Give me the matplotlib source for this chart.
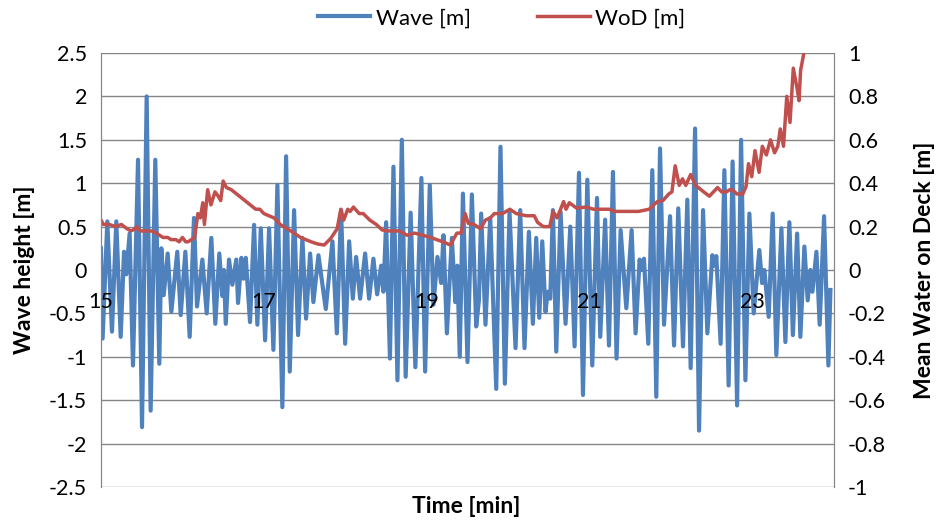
import matplotlib
matplotlib.use("Agg")
import matplotlib.pyplot as plt

plt.rcParams['font.family'] = ['Lato', 'DejaVu Sans']

# Wave elevation [m], peaks and troughs
wave_t = [15.00, 15.02, 15.078, 15.135, 15.188, 15.242, 15.283, 15.31, 15.352, 15.393,
          15.455, 15.504, 15.561, 15.610, 15.667, 15.716, 15.741, 15.770, 15.819, 15.864,
          15.937, 15.979, 16.036, 16.089, 16.142, 16.179, 16.245, 16.298, 16.355, 16.404,
          16.453, 16.49, 16.51, 16.532, 16.572, 16.613, 16.662, 16.683, 16.724, 16.75,
          16.778, 16.830, 16.880, 16.920, 16.962, 17.015, 17.064, 17.117, 17.166, 17.227,
          17.273, 17.318, 17.371, 17.420, 17.473, 17.518, 17.568, 17.608, 17.670, 17.760,
          17.842, 17.896, 17.948, 17.998, 18.047, 18.092, 18.133, 18.182, 18.243, 18.292,
          18.345, 18.391, 18.440, 18.468, 18.501, 18.548, 18.591, 18.640, 18.694, 18.741,
          18.802, 18.860, 18.934, 18.980, 19.037, 19.082, 19.131, 19.177, 19.205, 19.247,
          19.308, 19.350, 19.375, 19.405, 19.444, 19.500, 19.554, 19.607, 19.64, 19.668,
          19.721, 19.779, 19.853, 19.905, 19.959, 20.016, 20.090, 20.147, 20.200, 20.254,
          20.303, 20.344, 20.381, 20.418, 20.458, 20.485, 20.516, 20.549, 20.590, 20.643,
          20.704, 20.762, 20.815, 20.869, 20.918, 20.971, 21.032, 21.090, 21.130, 21.19,
          21.237, 21.286, 21.330, 21.380, 21.450, 21.515, 21.564, 21.613, 21.64, 21.667,
          21.720, 21.769, 21.818, 21.864, 21.913, 21.987, 22.036, 22.088, 22.146, 22.199,
          22.240, 22.294, 22.343, 22.392, 22.445, 22.506, 22.53, 22.555, 22.608, 22.654,
          22.706, 22.755, 22.810, 22.859, 22.912, 22.961, 23.014, 23.083, 23.117, 23.145,
          23.198, 23.247, 23.292, 23.354, 23.403, 23.452, 23.495, 23.547, 23.587, 23.636,
          23.677, 23.71, 23.735, 23.784, 23.824, 23.878, 23.931, 23.956]
wave_h = [0.25, -0.79, 0.56, -0.71, 0.56, -0.77, 0.21, -0.05, 0.42, -1.10,
          1.27, -1.81, 2.00, -1.62, 1.27, -1.08, 0.25, -0.29, 0.19, -0.48,
          0.21, -0.52, 0.21, -0.77, 0.60, -0.42, 0.12, -0.50, 0.37, -0.62,
          0.19, -0.30, 0.0, -0.62, 0.12, -0.17, 0.12, -0.38, 0.14, -0.10,
          0.14, -0.60, 0.52, -0.63, 0.48, -0.81, 0.48, -0.92, 0.98, -1.58,
          1.31, -1.17, 0.69, -0.75, 0.37, -0.56, 0.19, -0.37, 0.17, -0.45,
          0.33, -0.73, 0.69, -0.85, 0.33, -0.33, 0.15, -0.33, 0.19, -0.33,
          0.13, -0.28, 0.05, -0.25, 0.55, -1.02, 1.19, -1.27, 1.50, -1.23,
          0.66, -1.12, 1.06, -1.17, 0.98, -0.40, 0.15, -0.15, 0.40, -0.73,
          0.37, -0.37, 0.05, -1.00, 0.88, -1.06, 0.87, -0.65, -0.35, 0.65,
          -0.63, 0.60, -1.37, 1.42, -1.31, 0.67, -0.90, 0.69, -0.90, 0.44,
          -0.62, 0.37, -0.55, 0.33, -0.48, -0.25, -0.33, 0.69, -0.94, 0.67,
          -0.62, 0.50, -0.88, 1.12, -1.44, 1.04, -1.10, 0.83, -0.77, 0.58,
          -0.87, 1.13, -1.02, 0.46, -0.44, 0.46, -0.73, 0.12, 0.0, 0.13,
          -0.85, 1.15, -1.46, 1.40, -0.63, 0.62, -0.87, 0.71, -0.88, 0.81,
          -1.13, 1.63, -1.85, 0.69, -0.73, 0.17, 0.05, 0.16, -0.85, 1.15,
          -1.33, 1.25, -1.56, 1.50, -1.27, 0.65, -0.50, 0.23, -0.15, 0.0,
          -0.54, 0.65, -0.98, 0.48, -0.83, 0.55, -0.75, 0.42, -0.77, 0.27,
          -0.35, 0.0, -0.25, 0.21, -0.63, 0.62, -1.10, -0.23]

# Mean water on deck [m]
wod_t = [15.00, 15.03, 15.10, 15.18, 15.25, 15.32, 15.37, 15.42, 15.44, 15.48,
         15.55, 15.62, 15.68, 15.76, 15.82, 15.86, 15.92, 15.96, 16.00, 16.04,
         16.07, 16.15, 16.19, 16.22, 16.25, 16.27, 16.31, 16.35, 16.40, 16.44,
         16.47, 16.50, 16.54, 16.60, 16.70, 16.80, 16.90, 16.95, 17.00, 17.125,
         17.20, 17.33, 17.45, 17.58, 17.66, 17.74, 17.82, 17.90, 17.945, 17.98,
         18.03, 18.06, 18.10, 18.17, 18.22, 18.30, 18.38, 18.45, 18.51, 18.60,
         18.66, 18.76, 18.85, 18.95, 19.05, 19.12, 19.20, 19.29, 19.37, 19.42,
         19.47, 19.51, 19.58, 19.66, 19.72, 19.78, 19.83, 19.93, 20.02, 20.10,
         20.22, 20.32, 20.36, 20.43, 20.51, 20.55, 20.60, 20.68, 20.71, 20.75,
         20.84, 20.95, 21.05, 21.16, 21.24, 21.30, 21.40, 21.50, 21.60, 21.73,
         21.83, 21.90, 21.97, 22.01, 22.05, 22.10, 22.14, 22.18, 22.24, 22.30,
         22.40, 22.47, 22.52, 22.57, 22.62, 22.68, 22.72, 22.75, 22.81, 22.88,
         22.92, 22.95, 22.99, 23.03, 23.08, 23.12, 23.17, 23.22, 23.27, 23.31,
         23.34, 23.38, 23.42, 23.46, 23.50, 23.55, 23.57, 23.59, 23.63, 23.65]
wod_m = [0.23, 0.21, 0.21, 0.20, 0.21, 0.19, 0.18, 0.19, 0.20, 0.18,
         0.18, 0.18, 0.17, 0.15, 0.15, 0.14, 0.14, 0.13, 0.15, 0.13,
         0.13, 0.15, 0.26, 0.24, 0.31, 0.21, 0.37, 0.30, 0.36, 0.34,
         0.32, 0.41, 0.38, 0.37, 0.34, 0.31, 0.28, 0.28, 0.26, 0.24,
         0.21, 0.18, 0.15, 0.13, 0.12, 0.115, 0.145, 0.19, 0.28, 0.23,
         0.28, 0.27, 0.29, 0.26, 0.26, 0.23, 0.21, 0.185, 0.18, 0.18,
         0.18, 0.16, 0.17, 0.16, 0.15, 0.14, 0.13, 0.115, 0.17, 0.17,
         0.26, 0.215, 0.21, 0.19, 0.23, 0.24, 0.26, 0.26, 0.28, 0.26,
         0.25, 0.25, 0.22, 0.20, 0.20, 0.27, 0.24, 0.315, 0.28, 0.31,
         0.285, 0.29, 0.28, 0.28, 0.28, 0.27, 0.27, 0.27, 0.27, 0.28,
         0.315, 0.32, 0.35, 0.36, 0.48, 0.39, 0.42, 0.39, 0.44, 0.39,
         0.36, 0.34, 0.36, 0.38, 0.36, 0.36, 0.37, 0.37, 0.35, 0.35,
         0.385, 0.49, 0.43, 0.55, 0.45, 0.57, 0.53, 0.60, 0.54, 0.57,
         0.65, 0.57, 0.80, 0.68, 0.93, 0.83, 0.78, 0.92, 1.00, 1.05]

x_ticks = [15, 17, 19, 21, 23]
left_ticks = [-2.5, -2, -1.5, -1, -0.5, 0, 0.5, 1, 1.5, 2, 2.5]
right_ticks = [-1, -0.8, -0.6, -0.4, -0.2, 0, 0.2, 0.4, 0.6, 0.8, 1]

blue = '#4F81BD'
red = '#C0504D'
grid_c = '#868686'
fs_tick = 15.5
fs_title = 16.5

fig = plt.figure(figsize=(9.41, 5.22), dpi=100)
ax = fig.add_axes([0.1073, 0.067, 0.779, 0.8315])
ax2 = ax.twinx()

ax.plot(wave_t, wave_h, color=blue, lw=3.0, solid_joinstyle='round', label='Wave [m]')
ax2.plot(wod_t, wod_m, color=red, lw=2.5, solid_joinstyle='round', label='WoD [m]')

ax.set_xlim(15, 24)
ax.set_ylim(-2.5, 2.5)
ax2.set_ylim(-1, 1)

ax.set_yticks(left_ticks)
ax.set_yticklabels([f'{v:g}' for v in left_ticks])
ax2.set_yticks(right_ticks)
ax2.set_yticklabels([f'{v:g}' for v in right_ticks])
ax.set_xticks(x_ticks)
ax.set_xticklabels([str(v) for v in x_ticks])

ax.grid(axis='y', color=grid_c, lw=1.0)
ax.set_axisbelow(True)
ax.xaxis.set_zorder(3)  # time labels sit on top of the wave trace

# category axis crosses at 0
ax.spines['bottom'].set_position(('data', 0))
ax.spines['bottom'].set_visible(False)
ax.spines['top'].set_visible(False)
for sp in ['left', 'right']:
    ax.spines[sp].set_color(grid_c)
    ax2.spines[sp].set_color(grid_c)
ax2.spines['top'].set_visible(False)
ax2.spines['bottom'].set_visible(False)

ax.tick_params(axis='x', length=0, pad=16, labelsize=fs_tick, colors='black')
ax.tick_params(axis='y', length=0, pad=10, labelsize=fs_tick)
ax2.tick_params(axis='y', length=0, pad=10, labelsize=fs_tick)

ax.set_ylabel('Wave height [m]', fontsize=fs_title, fontweight='bold', ha='center', va='center')
ax.yaxis.set_label_coords(-0.104, 0.5)
ax2.set_ylabel('Mean Water on Deck [m]', fontsize=fs_title, fontweight='bold', ha='center', va='center')
ax2.yaxis.set_label_coords(1.124, 0.5)
ax.set_xlabel('Time [min]', fontsize=fs_title, fontweight='bold', ha='center', va='center')
ax.xaxis.set_label_coords(0.498, -0.046)

h1, l1 = ax.get_legend_handles_labels()
h2, l2 = ax2.get_legend_handles_labels()
fig.legend(h1 + h2, l1 + l2, loc='center', bbox_to_anchor=(0.533, 0.965), ncol=2,
           frameon=False, fontsize=16, handlelength=2.35, handletextpad=0.25,
           columnspacing=3.0)

fig.savefig('out.png', dpi=100)
